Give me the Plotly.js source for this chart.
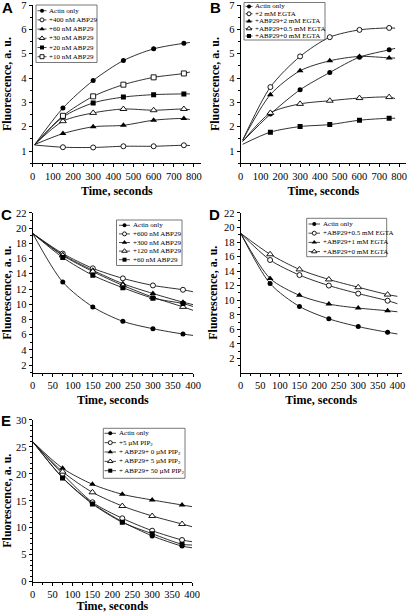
<!DOCTYPE html>
<html><head><meta charset="utf-8">
<script src="https://cdn.plot.ly/plotly-3.0.1.min.js"></script>
<style>html,body{margin:0;padding:0;background:#fff}#chart{width:415px;height:613px}</style>
</head><body><div id="chart"></div>
<script>
// ---------------- DATA ----------------
// Panels A and B: markers every 150 s, recorded trace from ~10 s to ~780 s
const timeAB = [150, 300, 450, 600, 750];
const traceEdgeAB = [10, 780];
const namesA = ['Actin only', '+400 nM ABP29', '+60 nM ABP29', '+30 nM ABP29', '+20 nM ABP29', '+10 nM ABP29'];
const actinA  = [2.77, 3.90, 4.72, 5.20, 5.43];
const abp400A = [1.16, 1.15, 1.20, 1.20, 1.24];
const abp60A  = [1.72, 2.00, 2.06, 2.27, 2.34];
const abp30A  = [2.23, 2.57, 2.73, 2.68, 2.73];
const abp20A  = [2.40, 2.98, 3.22, 3.32, 3.35];
const abp10A  = [2.45, 3.25, 3.73, 4.03, 4.19];
const startA  = [1.27, 1.25, 1.27, 1.27, 1.27, 1.27];
const endA    = [5.46, 1.23, 2.30, 2.70, 3.35, 4.25];

const namesB = ['Actin only', '+2 mM EGTA', '+ABP29+2 mM EGTA', '+ABP29+0.5 mM EGTA', '+ABP29+0 mM EGTA'];
const actinB     = [2.52, 3.52, 4.23, 4.86, 5.16];
const egta2B     = [3.63, 4.89, 5.68, 5.98, 6.06];
const abpEgta2B  = [3.32, 4.30, 4.71, 4.89, 4.83];
const abpEgta05B = [2.57, 2.94, 3.07, 3.18, 3.22];
const abpEgta0B  = [1.78, 2.01, 2.09, 2.27, 2.35];
const startB = [1.40, 1.45, 1.45, 1.40, 1.28];
const endB   = [5.22, 6.05, 4.82, 3.16, 2.35];

// Panels C, D, E: markers every 75 s, trace from 0 s to 400 s
const timeCDE = [75, 150, 225, 300, 375];
const traceEdgeCDE = [0, 400];
const namesC = ['Actin only', '+600 nM ABP29', '+300 nM ABP29', '+120 nM ABP29', '+60 nM ABP29'];
const actinC  = [12.91, 9.65, 7.75, 6.78, 6.08];
const abp600C = [16.66, 14.72, 13.40, 12.47, 11.90];
const abp300C = [16.50, 14.46, 12.70, 11.41, 10.27];
const abp120C = [16.40, 14.30, 12.47, 10.92, 9.65];
const abp60C  = [16.14, 13.80, 12.17, 10.80, 10.09];
const startC = [19.3, 19.3, 19.3, 19.3, 19.3];
const endC   = [5.90, 11.64, 9.95, 9.20, 9.70];

const namesD = ['Actin only', '+ABP29+0.5 mM EGTA', '+ABP29+1 mM EGTA', '+ABP29+0 mM EGTA'];
const actinD  = [12.30, 9.15, 7.45, 6.38, 5.60];
const abpE05D = [15.53, 13.46, 12.02, 10.92, 9.94];
const abpE1D  = [13.00, 10.68, 9.48, 8.93, 8.56];
const abpE0D  = [16.32, 14.24, 12.86, 11.79, 10.78];
const startD = [19.2, 19.2, 19.2, 19.2];
const endD   = [5.37, 9.53, 8.42, 10.54];

const namesE = ['Actin only', '+5 \u00b5M PIP<sub>2</sub>', '+ ABP29+ 0 \u00b5M PIP<sub>2</sub>', '+ ABP29+ 5 \u00b5M PIP<sub>2</sub>', '+ ABP29+ 50 \u00b5M PIP<sub>2</sub>'];
const actinE  = [19.30, 14.54, 11.13, 8.50, 6.60];
const pip5E   = [19.98, 14.73, 11.76, 9.46, 7.74];
const abpP0E  = [21.04, 18.07, 16.21, 15.16, 14.23];
const abpP5E  = [20.41, 16.58, 14.04, 12.19, 10.70];
const abpP50E = [19.25, 14.42, 11.02, 8.90, 6.95];
const startE = [25.97, 25.97, 25.97, 25.97, 25.97];
const endE   = [6.30, 7.42, 13.92, 10.20, 6.80];

// ---------------- STYLE / LAYOUT ----------------
const W = 415, H = 613;
const SERIF = 'Liberation Serif, Times New Roman, serif';
const SANS = 'Liberation Sans, Arial, sans-serif';
const SYMS = ['circle', 'circle', 'triangle-up', 'triangle-up', 'square', 'square'];
const OPEN = [false, true, false, true, false, true];

function markerStyle(i, size) {
  const tri = SYMS[i] === 'triangle-up';
  return {
    symbol: SYMS[i],
    size: tri ? size * 1.2 : size,
    color: OPEN[i] ? '#ffffff' : '#000000',
    line: {color: '#000000', width: OPEN[i] ? 0.9 : 0}
  };
}

const panels = [
  {ax: '',  times: timeAB, edge: traceEdgeAB, names: namesA, vals: [actinA, abp400A, abp60A, abp30A, abp20A, abp10A], start: startA, end: endA,
   xdom: [32.7, 201], ydom: [4.8, 163.3], xr: [0, 835], yr: [0.5, 7.01], xd: 100, xm: 50, yd: 1, ym: 0.5, ystand: 7, xstand: 5, letter: 'A', lp: [7, 7],
   leg: {box: [36, 5, 97, 62.5], y0: 10.7, step: 9.2, sx: [37.5, 46.5], tx: 47.5}},
  {ax: '2', times: timeAB, edge: traceEdgeAB, names: namesB, vals: [actinB, egta2B, abpEgta2B, abpEgta05B, abpEgta0B], start: startB, end: endB,
   xdom: [240.7, 406], ydom: [4.8, 163.3], xr: [0, 835], yr: [0.5, 7.01], xd: 100, xm: 50, yd: 1, ym: 0.5, ystand: 7, xstand: 5, letter: 'B', lp: [215, 7],
   leg: {box: [244, 2.5, 325, 40], y0: 6.4, step: 7.4, sx: [245.5, 252.5], tx: 253.5}},
  {ax: '3', times: timeCDE, edge: traceEdgeCDE, names: namesC, vals: [actinC, abp600C, abp300C, abp120C, abp60C], start: startC, end: endC,
   xdom: [32.7, 193], ydom: [212.7, 372.7], xr: [0, 400], yr: [1, 22.03], xd: 50, xm: 25, yd: 2, ym: 1, ystand: 3, xstand: 5, letter: 'C', lp: [6, 214],
   leg: {box: [116.5, 220, 182, 265.5], y0: 225.3, step: 8.6, sx: [119, 130], tx: 132}},
  {ax: '4', times: timeCDE, edge: traceEdgeCDE, names: namesD, vals: [actinD, abpE05D, abpE1D, abpE0D], start: startD, end: endD,
   xdom: [240.7, 401.7], ydom: [212.7, 372.7], xr: [0, 411], yr: [0.05, 22.03], xd: 50, xm: 25, yd: 2, ym: 1, ystand: 3, xstand: 5, letter: 'D', lp: [214.5, 214],
   leg: {box: [306.7, 218.3, 386.7, 256.7], y0: 224, step: 9.2, sx: [308.5, 320], tx: 322}},
  {ax: '5', times: timeCDE, edge: traceEdgeCDE, names: namesE, vals: [actinE, pip5E, abpP0E, abpP5E, abpP50E], start: startE, end: endE,
   xdom: [32.7, 192], ydom: [419.7, 581.7], xr: [0, 400], yr: [0, 30.05], xd: 50, xm: 25, yd: 5, ym: 1, ystand: 3, xstand: 1, letter: 'E', lp: [6, 420],
   leg: {box: [103.3, 428.3, 185, 478.3], y0: 433.3, step: 9.35, sx: [104.5, 116], tx: 117.5}}
];

const traces = [];
const annotations = [];
const shapes = [];
const layout = {
  width: W, height: H,
  margin: {l: 0, r: 0, t: 0, b: 0, pad: 0},
  paper_bgcolor: '#ffffff', plot_bgcolor: 'rgba(0,0,0,0)',
  showlegend: false,
  font: {family: SERIF, color: '#000000'},
  annotations: annotations, shapes: shapes
};

function axisCommon() {
  return {
    showline: true, linecolor: '#000000', linewidth: 1,
    ticks: 'outside', ticklen: 3, tickwidth: 1, tickcolor: '#000000',
    tickfont: {family: SERIF, size: 10.5, color: '#000000'},
    ticklabeloverflow: 'allow',
    showgrid: false, zeroline: false, fixedrange: true
  };
}

panels.forEach(p => {
  const xa = 'x' + p.ax, ya = 'y' + p.ax;
  const xk = 'xaxis' + p.ax, yk = 'yaxis' + p.ax;
  layout[xk] = Object.assign(axisCommon(), {
    domain: [p.xdom[0] / W, p.xdom[1] / W], range: p.xr, anchor: ya,
    tick0: 0, dtick: p.xd,
    minor: {dtick: p.xm, ticks: 'outside', ticklen: 2, tickwidth: 1, tickcolor: '#000000', showgrid: false},
    title: {text: 'Time, seconds', font: {family: SERIF, size: 12, color: '#000000', weight: 'bold'}, standoff: p.xstand}
  });
  layout[yk] = Object.assign(axisCommon(), {
    domain: [1 - p.ydom[1] / H, 1 - p.ydom[0] / H], range: p.yr, anchor: xa,
    tick0: 0, dtick: p.yd,
    minor: {dtick: p.ym, ticks: 'outside', ticklen: 2, tickwidth: 1, tickcolor: '#000000', showgrid: false},
    title: {text: 'Fluorescence, a. u.', font: {family: SERIF, size: 12, color: '#000000', weight: 'bold'}, standoff: p.ystand}
  });
  p.vals.forEach((v, i) => {
    traces.push({
      x: [p.edge[0]].concat(p.times, [p.edge[1]]),
      y: [p.start[i]].concat(v, [p.end[i]]),
      xaxis: xa, yaxis: ya, mode: 'lines', hoverinfo: 'skip',
      line: {color: '#1a1a1a', width: 0.9, shape: 'spline', smoothing: 0.8}
    });
  });
  p.vals.forEach((v, i) => {
    traces.push({
      x: p.times, y: v, name: p.names[i], xaxis: xa, yaxis: ya, mode: 'markers',
      marker: markerStyle(i, 5)
    });
  });
  annotations.push({xref: 'x6', yref: 'y6', x: p.lp[0], y: p.lp[1], text: '<b>' + p.letter + '</b>', showarrow: false,
    xanchor: 'center', yanchor: 'middle', font: {family: SANS, size: 15, color: '#000000'}});
  const L = p.leg;
  shapes.push({type: 'rect', xref: 'x6', yref: 'y6', x0: L.box[0], y0: L.box[1], x1: L.box[2], y1: L.box[3],
    line: {color: '#555555', width: 0.8}, fillcolor: 'rgba(0,0,0,0)'});
  p.names.forEach((nm, i) => {
    const yy = L.y0 + i * L.step;
    traces.push({x: [L.sx[0], L.sx[1]], y: [yy, yy], xaxis: 'x6', yaxis: 'y6', mode: 'lines', hoverinfo: 'skip',
      line: {color: '#1a1a1a', width: 0.8}});
    traces.push({x: [(L.sx[0] + L.sx[1]) / 2], y: [yy], xaxis: 'x6', yaxis: 'y6', mode: 'markers', hoverinfo: 'skip',
      marker: markerStyle(i, 4)});
    annotations.push({xref: 'x6', yref: 'y6', x: L.tx, y: yy, text: nm, showarrow: false, xanchor: 'left', yanchor: 'middle',
      font: {family: SERIF, size: 7, color: '#000000'}, borderpad: 0});
  });
});

layout.xaxis6 = {domain: [0, 1], range: [0, W], anchor: 'y6', visible: false, fixedrange: true};
layout.yaxis6 = {domain: [0, 1], range: [H, 0], anchor: 'x6', visible: false, fixedrange: true};

Plotly.newPlot('chart', traces, layout, {staticPlot: true, displayModeBar: false});
</script>
</body></html>
